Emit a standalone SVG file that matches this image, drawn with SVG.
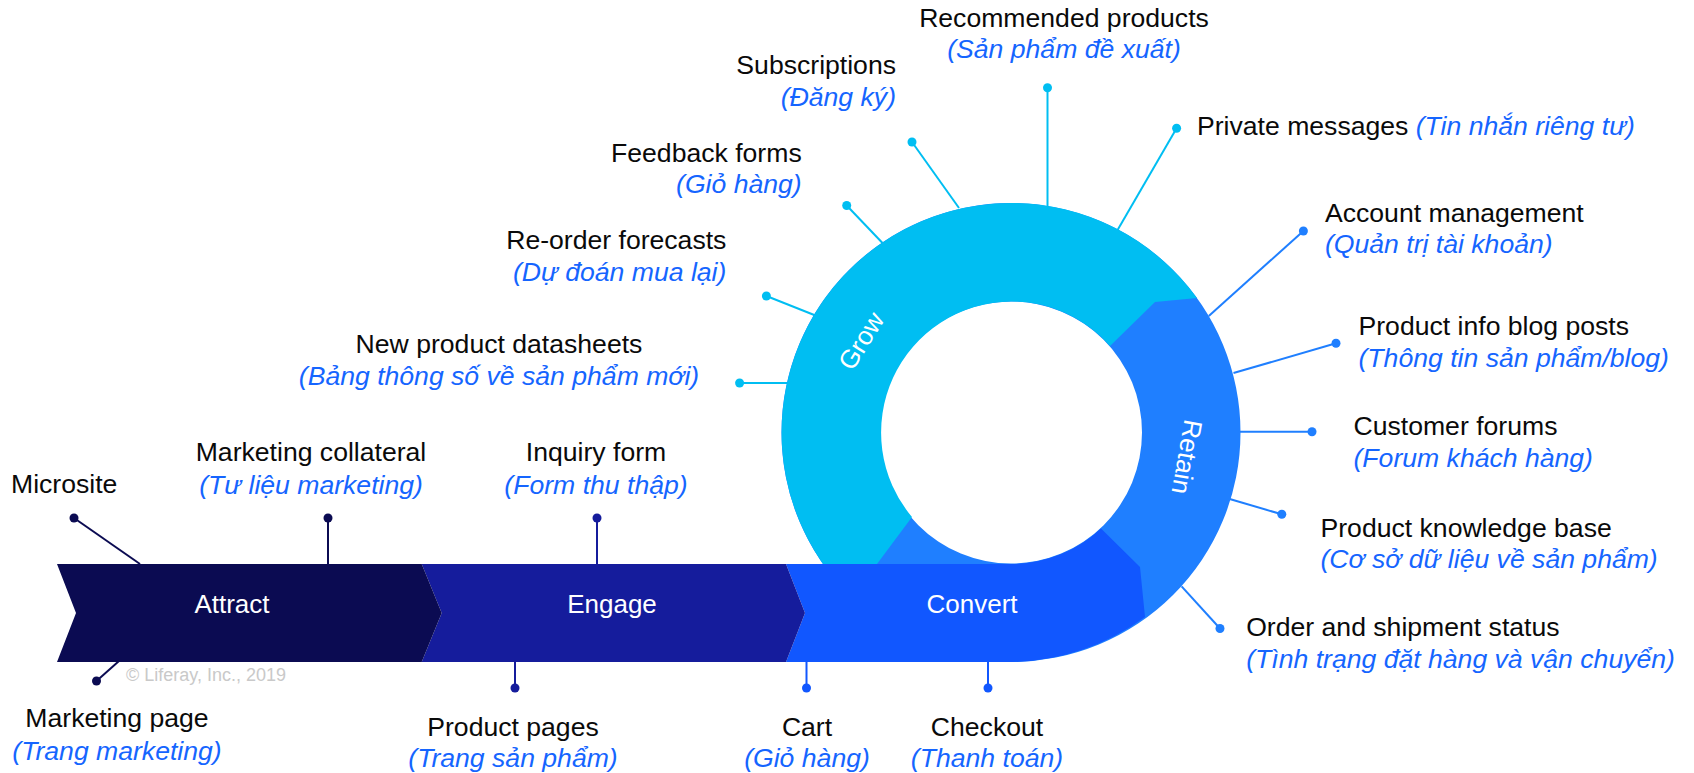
<svg xmlns="http://www.w3.org/2000/svg" width="1694" height="773" viewBox="0 0 1694 773">
<style>
text{font-family:"Liberation Sans",Arial,Helvetica,sans-serif;font-size:26.6px;fill:#0a0a0a}
.vi{font-style:italic;fill:#1565ff}
.st{fill:#ffffff;font-size:26px}
.copy{font-size:18px;fill:#c9c9c9}
.ln{stroke-width:2;fill:none}
.navy{stroke:#0b0b52}.eng{stroke:#151c9c}.cnv{stroke:#1157ff}.grw{stroke:#00bef2}.ret{stroke:#1f7fff}
.dnavy{fill:#0b0b52}.deng{fill:#151c9c}.dcnv{fill:#1157ff}.dgrw{fill:#00bef2}.dret{fill:#1f7fff}
</style>
<rect width="1694" height="773" fill="#ffffff"/>

<g id="connectors">
  <line class="ln navy" x1="74" y1="518" x2="140" y2="564"/><circle class="dnavy" cx="74" cy="518" r="4.5"/>
  <line class="ln navy" x1="328" y1="518" x2="328" y2="565"/><circle class="dnavy" cx="328" cy="518" r="4.5"/>
  <line class="ln eng" x1="597" y1="518" x2="597" y2="565"/><circle class="deng" cx="597" cy="518" r="4.5"/>
  <line class="ln navy" x1="96.5" y1="681" x2="119" y2="661"/><circle class="dnavy" cx="96.5" cy="681" r="4.5"/>
  <line class="ln eng" x1="515" y1="661" x2="515" y2="688"/><circle class="deng" cx="515" cy="688" r="4.5"/>
  <line class="ln cnv" x1="806.5" y1="661" x2="806.5" y2="688"/><circle class="dcnv" cx="806.5" cy="688" r="4.5"/>
  <line class="ln cnv" x1="988" y1="660" x2="988" y2="688"/><circle class="dcnv" cx="988" cy="688" r="4.5"/>
  <line class="ln grw" x1="739.6" y1="383" x2="788" y2="383"/><circle class="dgrw" cx="739.6" cy="383" r="4.5"/>
  <line class="ln grw" x1="766.4" y1="296" x2="815.5" y2="315.5"/><circle class="dgrw" cx="766.4" cy="296" r="4.5"/>
  <line class="ln grw" x1="846.7" y1="205.5" x2="882.5" y2="243"/><circle class="dgrw" cx="846.7" cy="205.5" r="4.5"/>
  <line class="ln grw" x1="912" y1="142" x2="959" y2="208"/><circle class="dgrw" cx="912" cy="142" r="4.5"/>
  <line class="ln grw" x1="1047.5" y1="87.7" x2="1047.5" y2="207"/><circle class="dgrw" cx="1047.5" cy="87.7" r="4.5"/>
  <line class="ln grw" x1="1176.6" y1="128.3" x2="1117" y2="231"/><circle class="dgrw" cx="1176.6" cy="128.3" r="4.5"/>
  <line class="ln ret" x1="1303.4" y1="231" x2="1208.8" y2="316"/><circle class="dret" cx="1303.4" cy="231" r="4.5"/>
  <line class="ln ret" x1="1336" y1="343.3" x2="1233.5" y2="373"/><circle class="dret" cx="1336" cy="343.3" r="4.5"/>
  <line class="ln ret" x1="1312" y1="431.7" x2="1240" y2="431.7"/><circle class="dret" cx="1312" cy="431.7" r="4.5"/>
  <line class="ln ret" x1="1281.8" y1="514.3" x2="1229.7" y2="499"/><circle class="dret" cx="1281.8" cy="514.3" r="4.5"/>
  <line class="ln ret" x1="1220" y1="628.5" x2="1181.6" y2="586.3"/><circle class="dret" cx="1220" cy="628.5" r="4.5"/>
</g>

<g id="ring">
  <path id="retain-ring" fill="#1f7fff" fill-rule="evenodd" d="M781.5,432.5 A229.5,229.5 0 1 1 1240.5,432.5 A229.5,229.5 0 1 1 781.5,432.5 Z M880,432.5 A131,131 0 1 0 1142,432.5 A131,131 0 1 0 880,432.5 Z"/>
  <path id="grow-seg" fill="#00bef2" d="M823,564 A229.5,229.5 0 0 1 1011,203 A229.5,229.5 0 0 1 1197,298 L1155,302 L1110,346 A131,131 0 0 0 1011,301.5 A131,131 0 0 0 912,517 L877,564 Z"/>
</g>

<g id="convert">
  <path fill="#1157ff" d="M786,564 L1011,564 A131,131 0 0 0 1101,528.5 L1140,567 L1145,617 A229.5,229.5 0 0 1 1011,662 L786,662 L805,613 Z"/>
  <text class="st" x="972" y="613" text-anchor="middle">Convert</text>
</g>
<g id="engage">
  <path fill="#151c9c" d="M421.7,564 L786,564 L805,613 L786,662 L421.7,662 L441.7,613 Z"/>
  <text class="st" x="612" y="613" text-anchor="middle">Engage</text>
</g>
<g id="attract">
  <path fill="#0b0b52" d="M57,564 L421.7,564 L441.7,613 L421.7,662 L57,662 L76,613 Z"/>
  <text class="st" x="232" y="613" text-anchor="middle">Attract</text>
</g>
<g id="grow-label">
  <text class="st" transform="translate(861,341) rotate(-58)" x="0" y="9" text-anchor="middle">Grow</text>
</g>
<g id="retain-label">
  <text class="st" transform="translate(1187,457) rotate(100)" x="0" y="9" text-anchor="middle">Retain</text>
</g>

<text class="copy" x="126" y="681">© Liferay, Inc., 2019</text>

<g id="microsite"><text x="11" y="492.7">Microsite</text></g>
<g id="marketing-collateral" text-anchor="middle"><text x="311" y="460.7">Marketing collateral</text><text class="vi" x="311" y="493.5">(Tư liệu marketing)</text></g>
<g id="inquiry-form" text-anchor="middle"><text x="596" y="460.7">Inquiry form</text><text class="vi" x="596" y="493.5">(Form thu thập)</text></g>
<g id="marketing-page" text-anchor="middle"><text x="117" y="727.3">Marketing page</text><text class="vi" x="117" y="759.5">(Trang marketing)</text></g>
<g id="product-pages" text-anchor="middle"><text x="513" y="736">Product pages</text><text class="vi" x="513" y="767">(Trang sản phẩm)</text></g>
<g id="cart" text-anchor="middle"><text x="807" y="736">Cart</text><text class="vi" x="807" y="767">(Giỏ hàng)</text></g>
<g id="checkout" text-anchor="middle"><text x="987" y="736">Checkout</text><text class="vi" x="987" y="767">(Thanh toán)</text></g>

<g id="new-product-datasheets" text-anchor="middle"><text x="499" y="353">New product datasheets</text><text class="vi" x="499" y="385">(Bảng thông số về sản phẩm mới)</text></g>
<g id="reorder-forecasts" text-anchor="end"><text x="726.4" y="249.3">Re-order forecasts</text><text class="vi" x="726.4" y="281">(Dự đoán mua lại)</text></g>
<g id="feedback-forms" text-anchor="end"><text x="801.7" y="161.7">Feedback forms</text><text class="vi" x="801.7" y="192.7">(Giỏ hàng)</text></g>
<g id="subscriptions" text-anchor="end"><text x="896" y="74">Subscriptions</text><text class="vi" x="896" y="105.7">(Đăng ký)</text></g>
<g id="recommended-products" text-anchor="middle"><text x="1064" y="26.7">Recommended products</text><text class="vi" x="1064" y="58.3">(Sản phẩm đề xuất)</text></g>
<g id="private-messages"><text x="1197" y="135">Private messages <tspan class="vi">(Tin nhắn riêng tư)</tspan></text></g>

<g id="account-management"><text x="1325" y="221.7">Account management</text><text class="vi" x="1325" y="252.7">(Quản trị tài khoản)</text></g>
<g id="product-info-blog"><text x="1358.5" y="335">Product info blog posts</text><text class="vi" x="1358.5" y="366.7">(Thông tin sản phẩm/blog)</text></g>
<g id="customer-forums"><text x="1353.5" y="435">Customer forums</text><text class="vi" x="1353.5" y="466.7">(Forum khách hàng)</text></g>
<g id="product-knowledge-base"><text x="1320.5" y="536.7">Product knowledge base</text><text class="vi" x="1320.5" y="568.3">(Cơ sở dữ liệu về sản phẩm)</text></g>
<g id="order-shipment-status"><text x="1246.2" y="636">Order and shipment status</text><text class="vi" x="1246.2" y="668">(Tình trạng đặt hàng và vận chuyển)</text></g>
</svg>
